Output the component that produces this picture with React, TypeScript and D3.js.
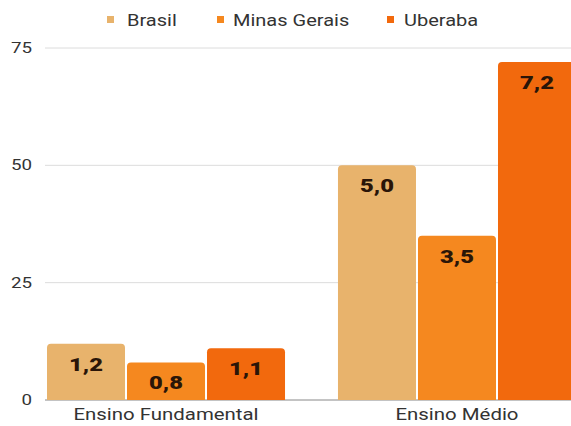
import React from "react";
import * as d3 from "d3";

const categories = ["Ensino Fundamental", "Ensino Médio"];
const seriesNames = ["Brasil", "Minas Gerais", "Uberaba"];
const brasil = [12, 50];
const minasGerais = [8, 35];
const uberaba = [11, 72];
const valueLabels = [
  ["1,2", "0,8", "1,1"],
  ["5,0", "3,5", "7,2"],
];
const yTicks = [0, 25, 50, 75];
const colors = ["#E8B36C", "#F5881F", "#F2690D"];

const W = 571;
const H = 426;
const SX = 1.25;

function topRoundedRect(x: number, y: number, w: number, h: number, r: number) {
  const rr = Math.min(r, h, w / 2);
  return `M${x},${y + h}V${y + rr}Q${x},${y} ${x + rr},${y}H${x + w - rr}Q${x + w},${y} ${x + w},${y + rr}V${y + h}Z`;
}

export default function App() {
  const series = [brasil, minasGerais, uberaba];
  const y = d3.scaleLinear().domain([0, 75]).range([400, 48]);
  const x0 = d3.scaleBand<string>().domain(categories).range([47, 576]).paddingInner(0.182).paddingOuter(0);
  const x1 = d3.scaleBand<string>().domain(seriesNames).range([0, x0.bandwidth()]).paddingInner(0.025);

  const legendSq = [107, 217, 387];
  const legendTx = [127, 233, 404];

  return (
    <svg width={W} height={H} style={{ position: "absolute", left: 0, top: 0, background: "#fff" }} fontFamily="Roboto, sans-serif">
      <rect width={W} height={H} fill="#fff" />
      {yTicks.map((t) => (
        <g key={t}>
          <line x1={45} x2={W} y1={y(t)} y2={y(t)} stroke={t === 0 ? "#888" : "#dcdcdc"} strokeWidth={1} />
          <text transform={`translate(32,${y(t) + 5}) scale(${SX},1)`} textAnchor="end" fontSize={15} fill="#333">
            {t}
          </text>
        </g>
      ))}
      {categories.map((c, ci) => (
        <g key={c} transform={`translate(${x0(c)},0)`}>
          {seriesNames.map((s, si) => {
            const v = series[si][ci];
            const bx = x1(s)!;
            const by = y(v);
            const bw = x1.bandwidth();
            return (
              <g key={s}>
                <path d={topRoundedRect(bx, by, bw, y(0) - by, 4)} fill={colors[si]} />
                <text
                  transform={`translate(${bx + bw / 2},${by + 27}) scale(${SX},1)`}
                  textAnchor="middle"
                  fontSize={19}
                  fontWeight={900}
                  fill="#2a1508"
                >
                  {valueLabels[ci][si]}
                </text>
              </g>
            );
          })}
          <text
            transform={`translate(${x0.bandwidth() / 2},420) scale(1.2,1)`}
            textAnchor="middle"
            fontSize={17}
            fill="#333"
          >
            {c}
          </text>
        </g>
      ))}
      {seriesNames.map((s, i) => (
        <g key={s}>
          <rect x={legendSq[i]} y={16} width={7} height={7} fill={colors[i]} />
          <text transform={`translate(${legendTx[i]},25.5) scale(${SX},1)`} fontSize={16} fill="#333">
            {s}
          </text>
        </g>
      ))}
    </svg>
  );
}
